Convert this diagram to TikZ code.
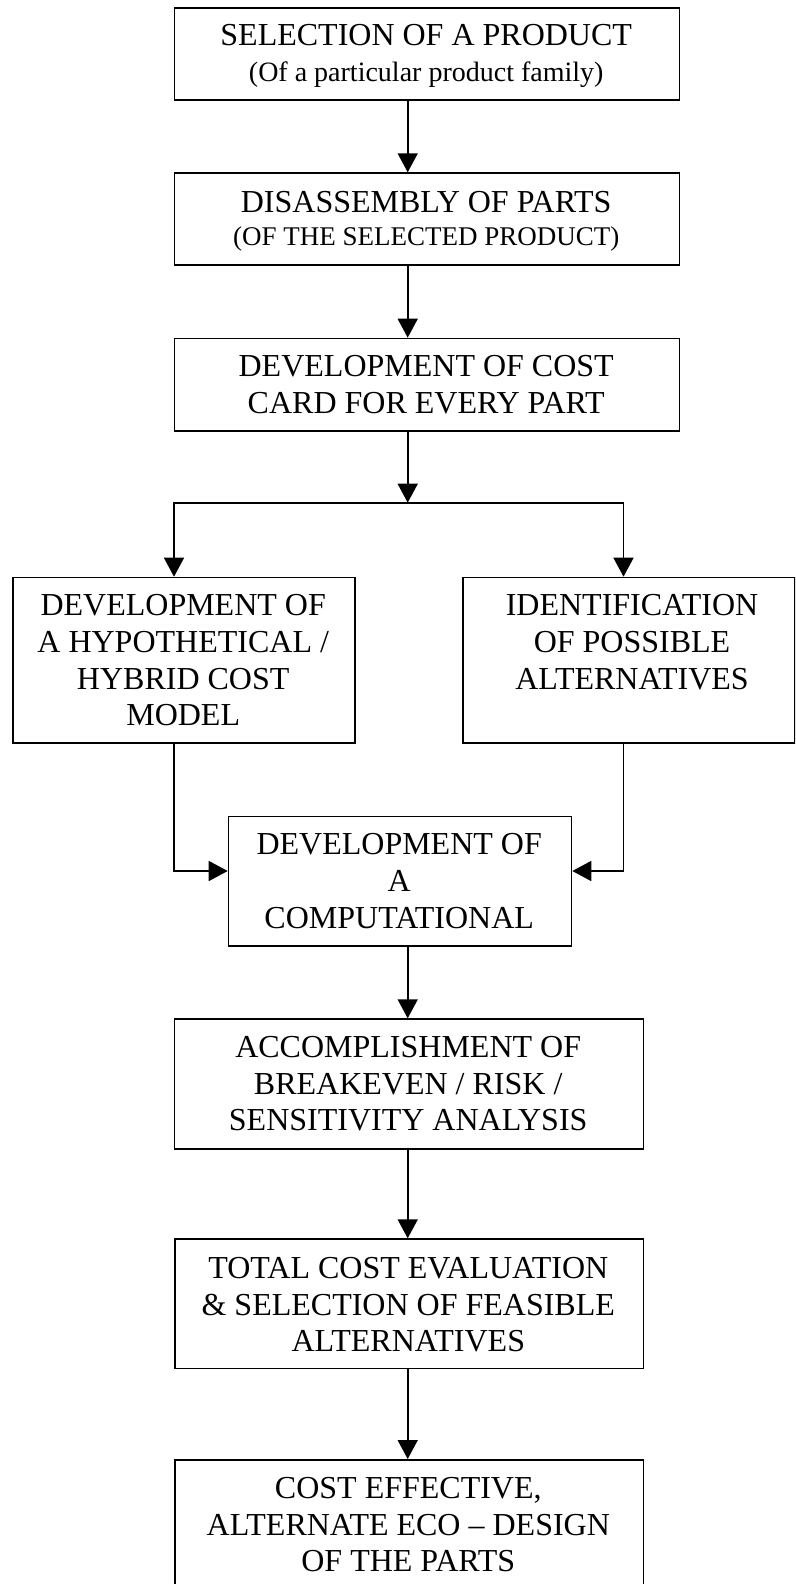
\documentclass[tikz,border=0pt]{standalone}
\usepackage{fontspec}
\setmainfont{Liberation Serif}
\usetikzlibrary{arrows.meta}
\begin{document}
\begin{tikzpicture}[x=1pt,y=-1pt,
  box/.style={draw, line width=1.6pt, rectangle, inner sep=0pt, anchor=north west},
  txt/.style={align=center, anchor=base, inner sep=0pt, font=\fontsize{32}{36.7}\selectfont},
  arr/.style={line width=1.6pt, -{Triangle[length=19pt,width=20pt]}}]
\useasboundingbox (0,0) rectangle (795,1584);
\clip (0,0) rectangle (795,1584);
% boxes
\node[box, minimum width=504.9pt, minimum height=91.9pt] (b1) at (173.7,7.1) {};
\node[box, minimum width=504.9pt, minimum height=92pt] (b2) at (173.7,172.3) {};
\node[box, minimum width=504.9pt, minimum height=92.3pt] (b3) at (173.7,337.7) {};
\node[box, minimum width=342.3pt, minimum height=165.6pt] (bl) at (12,576.7) {};
\node[box, minimum width=332pt, minimum height=165.6pt] (br) at (462,576.7) {};
\node[box, minimum width=343pt, minimum height=129.3pt] (bc) at (227.7,815.7) {};
\node[box, minimum width=469pt, minimum height=129.7pt] (ba) at (173.7,1018.3) {};
\node[box, minimum width=468.7pt, minimum height=129.4pt] (bt) at (174,1238.3) {};
\node[box, minimum width=468.7pt, minimum height=140pt] (bz) at (174,1459) {};
% texts (anchor = baseline of the last line)
\node[txt] (t1) at (426.2,81.7) {SELECTION OF A PRODUCT\\[-1pt]{\fontsize{28}{33}\selectfont (Of a particular product family)}};
\node[txt] (t2) at (426.2,245) {DISASSEMBLY OF PARTS\\[-4.4pt]{\fontsize{27}{32}\selectfont (OF THE SELECTED PRODUCT)}};
\node[txt] (t3) at (426.2,413.3) {DEVELOPMENT OF COST\\CARD FOR EVERY PART};
\node[txt] (tl) at (183.2,725.7) {DEVELOPMENT OF\\A HYPOTHETICAL /\\HYBRID COST\\MODEL};
\node[txt] (tr) at (632,689.3) {IDENTIFICATION\\OF POSSIBLE\\ALTERNATIVES};
\node[txt] (tc) at (399.2,928.3) {DEVELOPMENT OF\\A\\COMPUTATIONAL};
\node[txt] (ta) at (408.2,1130.7) {ACCOMPLISHMENT OF\\BREAKEVEN / RISK /\\SENSITIVITY ANALYSIS};
\node[txt] (tt) at (408.3,1351.7) {TOTAL COST EVALUATION\\\& SELECTION OF FEASIBLE\\ALTERNATIVES};
\node[txt] (tz) at (408.3,1571.7) {COST EFFECTIVE,\\ALTERNATE ECO – DESIGN\\OF THE PARTS};
% helper coordinates
\coordinate (A) at (407.7,0);
\coordinate (L) at (174,0);
\coordinate (R) at (623.5,0);
\coordinate (split) at (407.7,502.7);
\coordinate (M) at (0,871);
% connectors
\draw[arr] (b1.south -| A) -- (b2.north -| A);
\draw[arr] (b2.south -| A) -- (b3.north -| A);
\draw[arr] (b3.south -| A) -- (split);
\draw[arr] (split) -| (bl.north -| L);
\draw[arr] (split) -| (br.north -| R);
\draw[arr] (bl.south -| L) |- (bc.west |- M);
\draw[arr] (br.south -| R) |- (bc.east |- M);
\draw[arr] (bc.south -| A) -- (ba.north -| A);
\draw[arr] (ba.south -| A) -- (bt.north -| A);
\draw[arr] (bt.south -| A) -- (bz.north -| A);
\end{tikzpicture}
\end{document}
